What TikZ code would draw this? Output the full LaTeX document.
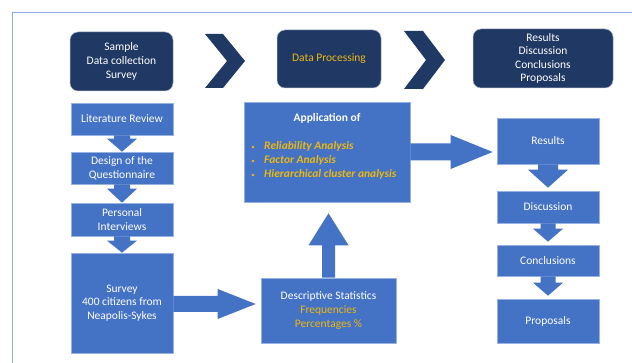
\documentclass[tikz,border=0pt]{standalone}
\usepackage{fontspec}
\setmainfont{Carlito}
\usetikzlibrary{calc}
\definecolor{navy}{RGB}{32,56,100}
\definecolor{mblue}{RGB}{68,114,196}
\definecolor{gold}{RGB}{236,184,16}
\definecolor{framec}{RGB}{143,170,220}
\definecolor{edgec}{RGB}{150,178,226}
\definecolor{navyedge}{RGB}{170,180,200}
\newcommand\myfs{\fontsize{11.5}{13.6}\selectfont}
\tikzset{
  navybox/.style={fill=navy, draw=navyedge, line width=0.5pt, rounded corners=8pt,
    text=white, align=center, inner sep=0pt, font=\myfs},
  bluebox/.style={fill=mblue, draw=edgec, line width=0.6pt,
    text=white, align=center, inner sep=0pt, font=\myfs},
  barrow/.style={fill=mblue},
  chev/.style={fill=navy},
  goldtxt/.style={text=gold, font=\myfs\bfseries\itshape, anchor=base west, inner sep=0pt},
  bul/.style={text=gold, font=\scriptsize, anchor=base, inner sep=0pt}
}
% down arrow: from, to, shaft half, head half, head length, gap
\newcommand\dnarrow[6]{\fill[barrow] let \p1=(#1.south), \p2=(#2.north) in
  (\x1-#3pt,\y1) -- (\x1+#3pt,\y1) -- (\x1+#3pt,\y2+#6pt+#5pt) -- (\x1+#4pt,\y2+#6pt+#5pt)
  -- (\x1,\y2+#6pt) -- (\x1-#4pt,\y2+#6pt+#5pt) -- (\x1-#3pt,\y2+#6pt+#5pt) -- cycle;}
% up arrow: from, to, shaft half, head half, head length, gap
\newcommand\uparr[6]{\fill[barrow] let \p1=(#1.north), \p2=(#2.south) in
  (\x1-#3pt,\y1) -- (\x1+#3pt,\y1) -- (\x1+#3pt,\y2-#6pt-#5pt) -- (\x1+#4pt,\y2-#6pt-#5pt)
  -- (\x1,\y2-#6pt) -- (\x1-#4pt,\y2-#6pt-#5pt) -- (\x1-#3pt,\y2-#6pt-#5pt) -- cycle;}
% right arrow: from, to, shaft half, head half, head length, gap, vertical offset
\newcommand\rtarrow[7]{\fill[barrow] let \p1=(#1.east), \p2=(#2.west) in
  (\x1,\y1+#3pt+#7pt) -- (\x2-#6pt-#5pt,\y1+#3pt+#7pt) -- (\x2-#6pt-#5pt,\y1+#4pt+#7pt)
  -- (\x2-#6pt,\y1+#7pt) -- (\x2-#6pt-#5pt,\y1-#4pt+#7pt) -- (\x2-#6pt-#5pt,\y1-#3pt+#7pt)
  -- (\x1,\y1-#3pt+#7pt) -- cycle;}
\begin{document}
\begin{tikzpicture}[x=1pt,y=-1pt]
\useasboundingbox (0,0) rectangle (632,363);
\draw[framec, line width=1pt] (12.5,363) -- (12.5,13) -- (632,13);

% top row
\node[navybox, minimum width=103pt, minimum height=59pt] (smp) at (121.5,61.5)
  {Sample\\Data collection\\Survey};
\node[navybox, minimum width=104pt, minimum height=58pt, text=gold] (dp) at (329,59)
  {Data Processing};
\node[navybox, minimum width=140pt, minimum height=59pt] (rdc) at (543,58.5)
  {Results\\Discussion\\Conclusions\\Proposals};
\fill[chev] (205,34) -- (223,34) -- (245,61) -- (223,88) -- (205,88) -- (227,61) -- cycle;
\fill[chev] (404,31) -- (423,31) -- (445,60) -- (423,89) -- (404,89) -- (426,60) -- cycle;

% left column
\node[bluebox, minimum width=102pt, minimum height=32pt] (lit) at (122,119) {Literature Review};
\node[bluebox, minimum width=102pt, minimum height=32pt] (des) at (122,168) {Design of the\\Questionnaire};
\node[bluebox, minimum width=102pt, minimum height=33pt] (per) at (122,219.5) {Personal\\Interviews};
\node[bluebox, minimum width=102pt, minimum height=100pt] (sur) at (122,303)
  {Survey\\400 citizens from\\Neapolis-Sykes};

% middle
\node[bluebox, minimum width=166pt, minimum height=100pt] (app) at (327,152) {};
\node[text=white, font=\myfs\bfseries, anchor=base, inner sep=0pt] (apt) at (327,122) {Application of};
\node[bul] (bl1) at (253,150) {\textbullet};
\node[bul] (bl2) at (253,164) {\textbullet};
\node[bul] (bl3) at (253,178) {\textbullet};
\node[goldtxt] (it1) at (264,150) {Reliability Analysis};
\node[goldtxt] (it2) at (264,164) {Factor Analysis};
\node[goldtxt] (it3) at (264,178) {Hierarchical cluster analysis};
\node[bluebox, minimum width=135pt, minimum height=65pt] (dsc) at (328.5,310.5)
  {Descriptive Statistics\\\textcolor{gold}{Frequencies}\\\textcolor{gold}{Percentages \%}};

% right column
\node[bluebox, minimum width=102pt, minimum height=46pt] (r1) at (548,141) {Results};
\node[bluebox, minimum width=102pt, minimum height=32pt] (r2) at (548,207) {Discussion};
\node[bluebox, minimum width=102pt, minimum height=31pt] (r3) at (548,260.5) {Conclusions};
\node[bluebox, minimum width=102pt, minimum height=44pt] (r4) at (548,321) {Proposals};

% arrows
\dnarrow{lit}{des}{8}{15}{13}{0}
\dnarrow{des}{per}{8}{15}{14}{0}
\dnarrow{per}{sur}{8}{15}{12}{0}
\dnarrow{r1}{r2}{10}{20}{18}{3}
\dnarrow{r2}{r3}{7.5}{15}{13}{3}
\dnarrow{r3}{r4}{7.5}{15}{13}{3}
\rtarrow{sur}{dsc}{8}{15}{38}{5}{-1}
\rtarrow{app}{r1}{8.5}{17}{42}{4}{0}
\uparr{dsc}{app}{6.5}{20}{32}{11}
\end{tikzpicture}
\end{document}
